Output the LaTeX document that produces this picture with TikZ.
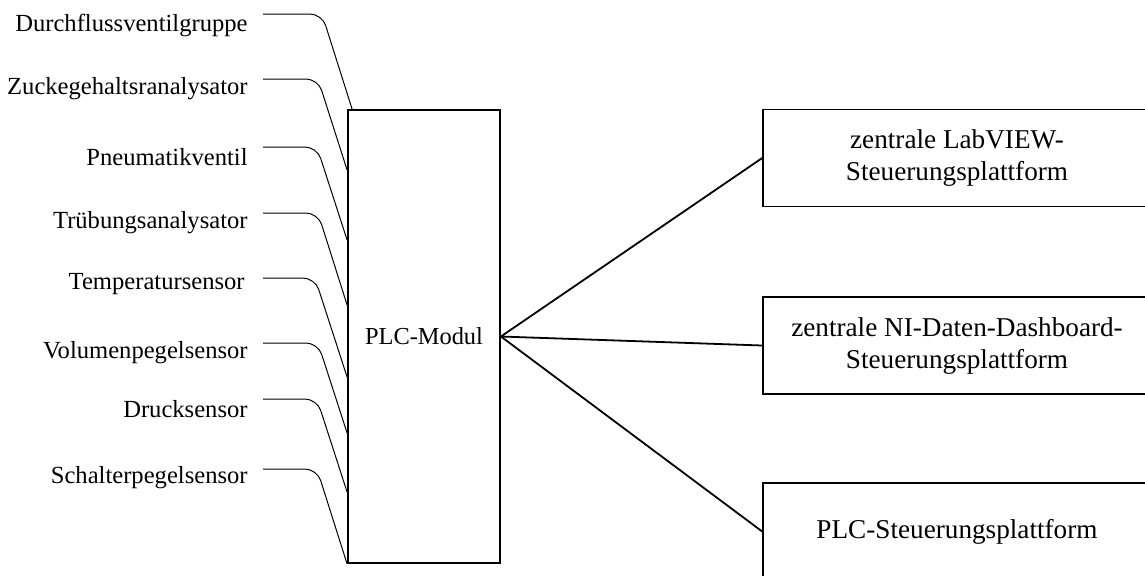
\documentclass[tikz,border=0pt]{standalone}
\usepackage{fontspec}
\setmainfont{Liberation Serif}
\usetikzlibrary{positioning}

\begin{document}
\begin{tikzpicture}[x=0.5pt,y=-0.5pt,
  sensorlabel/.style={anchor=east,inner sep=0pt,font=\fontsize{12.3}{14}\selectfont},
  sensorline/.style={line width=0.5pt,rounded corners=6pt},
  modulbox/.style={draw,line width=0.9pt,minimum width=76pt,minimum height=226.5pt,inner sep=0pt,font=\fontsize{12.2}{15}\selectfont},
  platformbox/.style={draw,line width=0.8pt,minimum width=194pt,minimum height=48.5pt,align=center,inner sep=0pt,font=\fontsize{13.6}{16}\selectfont},
  linkline/.style={line width=0.9pt}]
  \useasboundingbox (0,0) rectangle (1145,575);
  \clip (0,0) rectangle (1145,575);
  \node[modulbox] (plc) at (424,336.5) {PLC-Modul};
  \node[platformbox] (lab) at (957,158) {zentrale LabVIEW-\\Steuerungsplattform};
  \node[platformbox] (ni) at (957,345.5) {zentrale NI-Daten-Dashboard-\\Steuerungsplattform};
  \node[platformbox] (sps) at (957,531.5) {PLC-Steuerungsplattform};
  \node[sensorlabel] (s1) at (248,25) {Durchflussventilgruppe};
  \node[sensorlabel] (s2) at (248,89) {Zuckegehaltsranalysator};
  \node[sensorlabel] (s3) at (248,157) {Pneumatikventil};
  \node[sensorlabel] (s4) at (248,223) {Trübungsanalysator};
  \node[sensorlabel] (s5) at (245,284) {Temperatursensor};
  \node[sensorlabel] (s6) at (248,353) {Volumenpegelsensor};
  \node[sensorlabel] (s7) at (248,409) {Drucksensor};
  \node[sensorlabel] (s8) at (248,478) {Schalterpegelsensor};
  % Sensoren zum PLC-Modul
  \draw[sensorline] (263,14) -- ++(59,0) -- ([xshift=2.5pt]plc.north west);
  \draw[sensorline] (263,79) -- ++(55,0) -- (plc.west |- 0,170);
  \draw[sensorline] (263,147) -- ++(54,0) -- (plc.west |- 0,240);
  \draw[sensorline] (263,213) -- ++(55,0) -- (plc.west |- 0,305);
  \draw[sensorline] (263,278) -- ++(52,0) -- (plc.west |- 0,377);
  \draw[sensorline] (263,343) -- ++(55,0) -- (plc.west |- 0,433);
  \draw[sensorline] (263,399) -- ++(54,0) -- (plc.west |- 0,492);
  \draw[sensorline] (263,469) -- ++(54,0) -- (plc.south west);
  % PLC-Modul zu den Plattformen
  \draw[linkline] (plc.east) -- (lab.west);
  \draw[linkline] (plc.east) -- (ni.west);
  \draw[linkline] (plc.east) -- (sps.west);
\end{tikzpicture}
\end{document}
